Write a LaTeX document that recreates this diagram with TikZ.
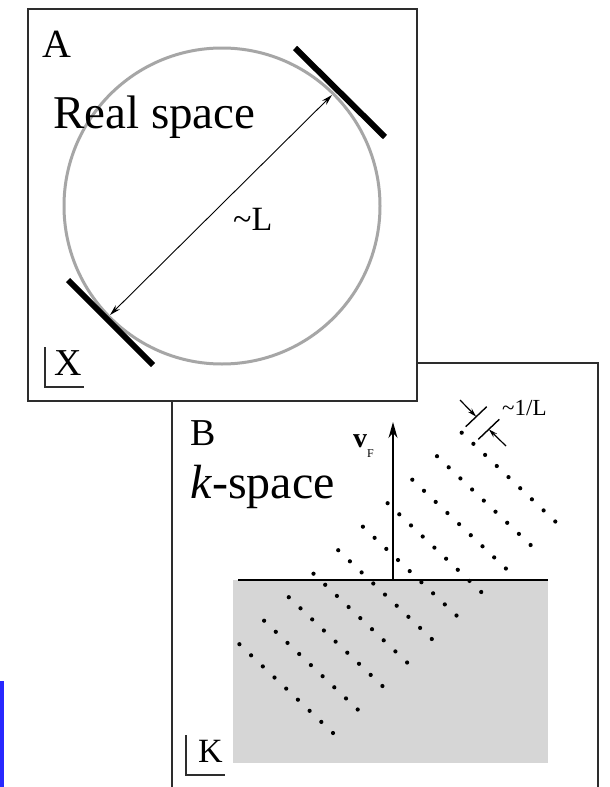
\documentclass[tikz,border=0pt]{standalone}
\usepackage{fontspec}
\setmainfont{Liberation Serif}
\usepackage{tikz}
\usetikzlibrary{arrows.meta}
\definecolor{ringgray}{RGB}{166,166,166}
\definecolor{fillgray}{RGB}{214,214,214}
\definecolor{framegray}{RGB}{45,45,45}
\definecolor{markblue}{RGB}{40,40,255}

\begin{document}
\begin{tikzpicture}[x=1pt, y=-1pt,
      panel/.style={draw=framegray, line width=1.5pt},
      mirror/.style={line width=6pt, color=black},
      axiscorner/.style={line width=1.2pt, color=framegray},
      tag/.style={inner sep=0pt, anchor=base west},
      dimarrow/.style={{Stealth[length=11pt,width=6pt]}-{Stealth[length=11pt,width=6pt]}, line width=0.9pt},
      tickarrow/.style={-{Stealth[length=9pt,width=5pt]}, line width=1.2pt}
    ]
    \clip (0,0) rectangle (610,787);
    \fill[white] (0,0) rectangle (610,787);
    \fill[markblue] (0,681) rectangle (4,787);

    % panel B : k-space
    \draw[panel] (172,363) rectangle (598,800);
    \fill[fillgray] (233,580) rectangle (548,763);
    \coordinate (fermiL) at (238,580);
    \coordinate (fermiR) at (548,580);
    \draw[line width=1.3pt] (fermiL) -- (fermiR);
    \foreach \i in {0,...,9}
      \foreach \j in {0,...,8}
        \fill ({461.7-24.7*\i+11.7*\j},{432.7+23.5*\i+11.1*\j}) circle (2.1pt);

    \coordinate (vbase) at (393,580);
    \coordinate (vtip) at (393,422);
    \draw[line width=1.3pt, -{Stealth[length=16pt,width=9pt]}] (vbase) -- (vtip);
    \node[tag] (vlabel) at (353,447) {\fontsize{28}{28}\selectfont\textbf{v}\raisebox{-10pt}{\fontsize{12}{12}\selectfont F}};

    \coordinate (tickUa) at (465.7,426.7);
    \coordinate (tickUb) at (486.7,406.7);
    \coordinate (tickUm) at (476.2,416.7);
    \coordinate (tickLa) at (478.3,439.3);
    \coordinate (tickLb) at (499.3,419.3);
    \coordinate (tickLm) at (488.8,429.3);
    \coordinate (tailU) at (460,400);
    \coordinate (tailL) at (506,446);
    \draw[line width=1.4pt] (tickUa) -- (tickUb);
    \draw[line width=1.4pt] (tickLa) -- (tickLb);
    \draw[tickarrow] (tailU) -- (tickUm);
    \draw[tickarrow] (tailL) -- (tickLm);
    \node[tag] (spacing) at (502,415) {\fontsize{23}{23}\selectfont\textasciitilde1/L};

    \node[tag] (labelB) at (190,445) {\fontsize{38}{38}\selectfont B};
    \node[tag] (kspace) at (190,498) {\fontsize{48}{48}\selectfont\textit{k}-space};
    \draw[axiscorner] (186,735) -- (186,775) -- (225,775);
    \node[tag] (labelK) at (198,762) {\fontsize{34}{34}\selectfont K};

    % panel A : real space
    \draw[panel, fill=white] (28,9) rectangle (417,401);
    \draw[ringgray, line width=3pt] (222,206) circle (158pt);
    \draw[mirror] (295,48) -- (385,137);
    \draw[mirror] (68,280) -- (153,365);
    \coordinate (tipLow) at (110,315);
    \coordinate (tipHigh) at (332,95);
    \draw[dimarrow] (tipLow) -- (tipHigh);

    \node[tag] (labelA) at (42,57) {\fontsize{40}{40}\selectfont A};
    \node[tag] (realspace) at (53,128) {\fontsize{47}{47}\selectfont Real space};
    \node[tag] (length) at (233,230) {\fontsize{34}{34}\selectfont\textasciitilde L};
    \draw[axiscorner] (45,347) -- (45,387) -- (84,387);
    \node[tag] (labelX) at (54,375) {\fontsize{38}{38}\selectfont X};
  \end{tikzpicture}
\end{document}
